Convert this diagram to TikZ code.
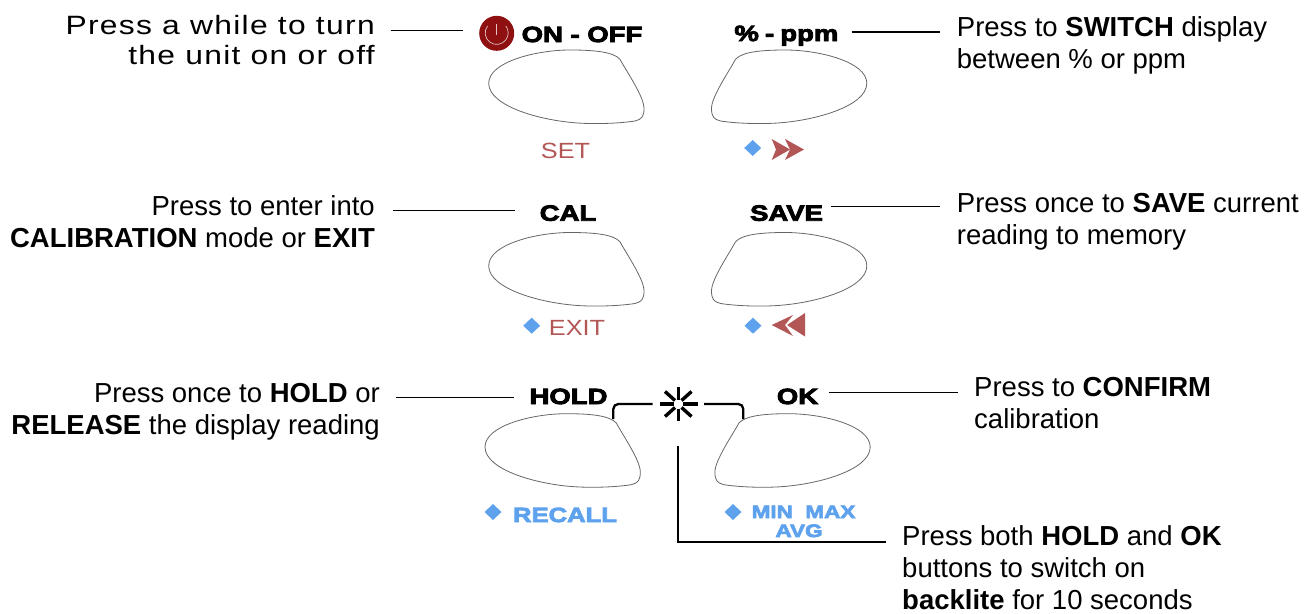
\documentclass[tikz,border=0pt]{standalone}
\usepackage{fontspec}
\setmainfont{Liberation Sans}
\newfontfamily\heavyf[FakeStretch=1.25,FakeBold=4]{Liberation Sans Bold}
\newfontfamily\widef[FakeStretch=1.2,LetterSpace=5]{Liberation Sans}
\newfontfamily\softf[FakeStretch=1.15]{Liberation Sans}
\definecolor{dred}{HTML}{8E1010}
\definecolor{softred}{HTML}{B25656}
\definecolor{softblue}{HTML}{5EA2EE}
\newcommand{\btnshape}{(620,59.3) .. controls (626.7,71.7) and (644,96.7) .. (644,108.3) .. controls (644,116.7) and (641.7,119.3) .. (635,121) .. controls (620,123.3) and (600,124) .. (583.3,123.3) .. controls (543.3,121.7) and (488.7,106.7) .. (488.7,83.3) .. controls (488.7,61.7) and (536.7,50) .. (570,50) .. controls (593.3,50) and (613.3,51.7) .. (620,59.3) -- cycle}
\newcommand{\bluediam}[2]{\fill[softblue] (#1-8.5,#2) -- (#1,#2-8) -- (#1+8.5,#2) -- (#1,#2+8) -- cycle;}
\tikzset{
  btn/.style={draw=black!60,line width=0.8pt},
  lead/.style={draw=black,line width=1.5pt},
  bracket/.style={draw=black,line width=2.3pt,rounded corners=5pt},
  rays/.style={draw=black,line width=3.4pt},
  notel/.style={anchor=base west,align=left,inner sep=0pt,font=\fontsize{27.5}{32}\selectfont},
  noter/.style={anchor=base east,align=right,inner sep=0pt,font=\fontsize{27.5}{32}\selectfont},
  wider/.style={anchor=base east,align=right,inner sep=0pt,font=\fontsize{26.5}{30}\selectfont\widef},
  keyl/.style={anchor=base,inner sep=0pt,font=\fontsize{22}{22}\selectfont\heavyf},
  redl/.style={anchor=base,inner sep=0pt,text=softred,font=\fontsize{22}{22}\selectfont\softf},
  bluel/.style={anchor=base,inner sep=0pt,text=softblue,font=\fontsize{20.5}{20.5}\selectfont\heavyf},
  bluesm/.style={anchor=base,inner sep=0pt,text=softblue,font=\fontsize{18}{18}\selectfont\heavyf},
}
\begin{document}
\begin{tikzpicture}[x=1pt,y=-1pt]
\useasboundingbox (0,0) rectangle (1316,613);
% buttons
\draw[btn] \btnshape;
\draw[btn,shift={(0,182.5)}] \btnshape;
\draw[btn,shift={(-3.7,363.7)}] \btnshape;
\draw[btn,xshift=1355.5pt,xscale=-1] \btnshape;
\draw[btn,xshift=1355.5pt,yshift=-182.5pt,xscale=-1] \btnshape;
\draw[btn,xshift=1358.9pt,yshift=-363.7pt,xscale=-1] \btnshape;
% power icon
\fill[dred] (496.7,33.3) circle (17.5);
\draw[white!75!dred,line width=0.7pt] (487.5,26) arc[start angle=217,end angle=-37,radius=11.5];
\draw[white!75!dred,line width=0.7pt] (496.7,24) -- (496.7,35);
% key labels
\node[keyl] (onoff) at (582,42) {ON - OFF};
\node[keyl] (pct) at (786.4,41) {\%\kern-1.5pt{} - \kern-1.5pt{}ppm};
\node[keyl] (cal) at (568,220.7) {CAL};
\node[keyl] (save) at (786.5,220.7) {SAVE};
\node[keyl] (hold) at (568.5,404) {HOLD};
\node[keyl] (ok) at (797.5,404) {OK};
% lower labels
\node[redl] (set) at (565.5,158.3) {SET};
\node[redl] (exit) at (577,335.7) {EXIT};
\node[bluel] (recall) at (565,522) {RECALL};
\node[bluesm] (minmax) at (803.5,518) {MIN\ \ MAX};
\node[bluesm] (avg) at (799,537) {AVG};
\bluediam{752.7}{148}
\bluediam{531.7}{325.7}
\bluediam{753}{325.7}
\bluediam{493}{512}
\bluediam{733}{512}
% arrows
\fill[softred] (771.7,139) -- (790,149.5) -- (771.7,160) -- (776,149.5) -- cycle;
\fill[softred] (785,139) -- (804,149.5) -- (785,160) -- (790,149.5) -- cycle;
\fill[softred] (805,313) -- (787,325) -- (805,336.5) -- cycle;
\fill[softred] (793,315) -- (771.7,325) -- (793,336) -- (785,325) -- cycle;
% notes
\node[wider] (n1) at (375,64) {Press a while to turn\\the unit on or off};
\node[noter] (n2) at (375,247.5) {Press to enter into\\\textbf{CALIBRATION} mode or \textbf{EXIT}};
\node[noter] (n3) at (380,434) {Press once to \textbf{HOLD} or\\\textbf{RELEASE} the display reading};
\node[notel] (n4) at (956.7,68) {Press to \textbf{SWITCH} display\\between \% or ppm};
\node[notel] (n5) at (956.7,244) {Press once to \textbf{SAVE} current\\reading to memory};
\node[notel] (n6) at (974,428) {Press to \textbf{CONFIRM}\\calibration};
\node[notel] (n7) at (902,609) {Press both \textbf{HOLD} and \textbf{OK}\\buttons to switch on\\\textbf{backlite} for 10 seconds};
% connector ends
\coordinate (a1) at (390.7,30.3); \coordinate (b1) at (463.3,30.3);
\coordinate (a2) at (392.7,210.7); \coordinate (b2) at (515,210.7);
\coordinate (a3) at (396,397.7); \coordinate (b3) at (514,397.7);
\coordinate (a4) at (851.7,32); \coordinate (b4) at (940,32);
\coordinate (a5) at (831,206.7); \coordinate (b5) at (940,206.7);
\coordinate (a6) at (829,392.7); \coordinate (b6) at (958,392.7);
\coordinate (a7) at (678,446); \coordinate (c7) at (678,542); \coordinate (b7) at (886,542);
\coordinate (bl1) at (613.3,419); \coordinate (bl2) at (613.3,404); \coordinate (bl3) at (652.7,404);
\coordinate (br1) at (743.3,419); \coordinate (br2) at (743.3,404); \coordinate (br3) at (704,404);
\draw[lead] (a1) -- (b1);
\draw[lead] (a2) -- (b2);
\draw[lead] (a3) -- (b3);
\draw[lead] (a4) -- (b4);
\draw[lead] (a5) -- (b5);
\draw[lead] (a6) -- (b6);
\draw[lead] (a7) -- (c7) -- (b7);
\draw[bracket] (bl1) -- (bl2) -- (bl3);
\draw[bracket] (br1) -- (br2) -- (br3);
% backlight symbol
\draw[rays] (678.3,387) -- (678.3,399.5) (678.3,408.5) -- (678.3,420.5)
  (659.5,404) -- (673.5,404) (683,404) -- (698,404);
\draw[rays] (665,391.5) -- (675,400.5) (681.5,407.5) -- (691.5,416.5)
  (691.5,391.5) -- (681.5,400.5) (675,407.5) -- (665,416.5);
\end{tikzpicture}
\end{document}
